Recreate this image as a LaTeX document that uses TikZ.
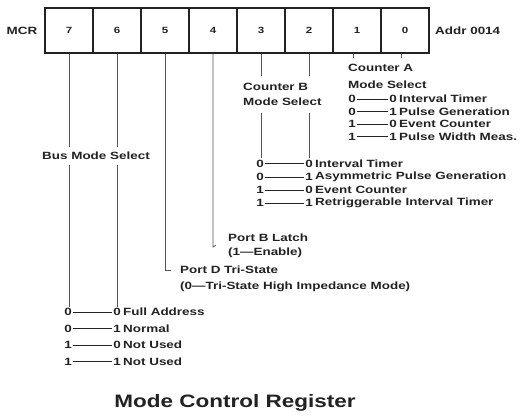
\documentclass[tikz,border=0pt]{standalone}
\usepackage{fontspec}
\newfontfamily\labfont{Liberation Sans}[FakeStretch=1.28]
\newfontfamily\titlefont{Liberation Sans}[FakeStretch=1.25]
\definecolor{ink}{HTML}{222222}
\definecolor{wire}{HTML}{555555}
\begin{document}
\begin{tikzpicture}[x=1pt,y=-1pt,
  lab/.style={font=\labfont\bfseries\fontsize{10.5}{12}\selectfont, text=ink, inner sep=0pt, anchor=west},
  dig/.style={font=\labfont\bfseries\fontsize{10.5}{12}\selectfont, text=ink, inner sep=1.2pt},
  cell/.style={draw=ink, line width=1.2pt, minimum width=48pt, minimum height=45pt, inner sep=0pt,
    font=\labfont\bfseries\fontsize{9}{10}\selectfont, text=ink},
  wireline/.style={draw=wire, line width=0.7pt},
  rowline/.style={draw=ink, line width=0.9pt}]
\useasboundingbox (0,0) rectangle (531,416);
\fill[white] (0,0) rectangle (531,416);

% register
\node[lab, anchor=center] (mcr) at (22,30.5) {MCR};
\foreach \b [count=\i from 0] in {7,6,5,4,3,2,1,0}
  \node[cell] (c\b) at (69+48*\i,30.5) {\b};
\node[lab] (addr) at (435,30.5) {Addr 0014};

% Counter A (bits 1,0)
\coordinate (t1) at (353,58);
\coordinate (t0) at (401,58);
\draw[wireline] (c1.south -| t1) -- (t1);
\draw[wireline] (c0.south -| t0) -- (t0);
\node[lab] (ca1) at (348,68) {Counter A};
\node[lab] (ca2) at (348,85) {Mode Select};
\foreach \l/\r/\t/\y [count=\k] in {0/0/Interval Timer/99, 0/1/Pulse Generation/111.5, 1/0/Event Counter/124, 1/1/Pulse Width Meas./136.5}{
  \node[dig] (al\k) at (352,\y) {\l};
  \node[dig] (ar\k) at (393,\y) {\r};
  \node[lab] (at\k) at (399,\y) {\t};
  \draw[rowline] (al\k) -- (ar\k);
}

% Counter B (bits 3,2)
\node[lab] (cb1) at (243,87) {Counter B};
\node[lab] (cb2) at (243,102) {Mode Select};
\coordinate (u3a) at (261,76);
\coordinate (u2a) at (309,76);
\coordinate (u3b) at (261,113);
\coordinate (u2b) at (309,113);
\draw[wireline] (c3.south -| u3a) -- (u3a);
\draw[wireline] (c2.south -| u2a) -- (u2a);
\foreach \l/\r/\t/\y [count=\k] in {0/0/Interval Timer/163.5, 0/1/Asymmetric Pulse Generation/177, 1/0/Event Counter/190, 1/1/Retriggerable Interval Timer/203}{
  \node[dig] (bl\k) at (260,\y) {\l};
  \node[dig] (br\k) at (309,\y) {\r};
  \node[lab] (bt\k) at (315,\y) {\t};
  \draw[rowline] (bl\k) -- (br\k);
}
\draw[wireline] (u3b) -- (bl1.north -| u3b);
\draw[wireline] (u2b) -- (br1.north -| u2b);

% Port B Latch (bit 4)
\coordinate (p4) at (213,247);
\draw[wireline] (c4.south) -- (p4) -- ++(3,-2);
\node[lab] (pb1) at (228,237.5) {Port B Latch};
\node[lab] (pb2) at (228,253) {(1—Enable)};

% Port D Tri-State (bit 5)
\coordinate (p5) at (165,270);
\draw[wireline] (c5.south) -- (p5) -- ++(6,0);
\node[lab] (pd1) at (180,270) {Port D Tri-State};
\node[lab] (pd2) at (180,287) {(0—Tri-State High Impedance Mode)};

% Bus Mode Select (bits 7,6)
\node[lab, anchor=center] (bus) at (96,155.5) {Bus Mode Select};
\coordinate (v7a) at (69,147);
\coordinate (v6a) at (117,147);
\coordinate (v7b) at (69,165);
\coordinate (v6b) at (117,165);
\draw[wireline] (c7.south) -- (v7a);
\draw[wireline] (c6.south) -- (v6a);
\foreach \l/\r/\t/\y [count=\k] in {0/0/Full Address/312, 0/1/Normal/328.5, 1/0/Not Used/345, 1/1/Not Used/361.5}{
  \node[dig] (ml\k) at (68,\y) {\l};
  \node[dig] (mr\k) at (117,\y) {\r};
  \node[lab] (mt\k) at (123,\y) {\t};
  \draw[rowline] (ml\k) -- (mr\k);
}
\draw[wireline] (v7b) -- (ml1.north -| v7b);
\draw[wireline] (v6b) -- (mr1.north -| v6b);

% title
\node[font=\titlefont\bfseries\fontsize{18}{20}\selectfont, text=ink, inner sep=0pt] (title) at (235,403) {Mode Control Register};
\end{tikzpicture}
\end{document}
